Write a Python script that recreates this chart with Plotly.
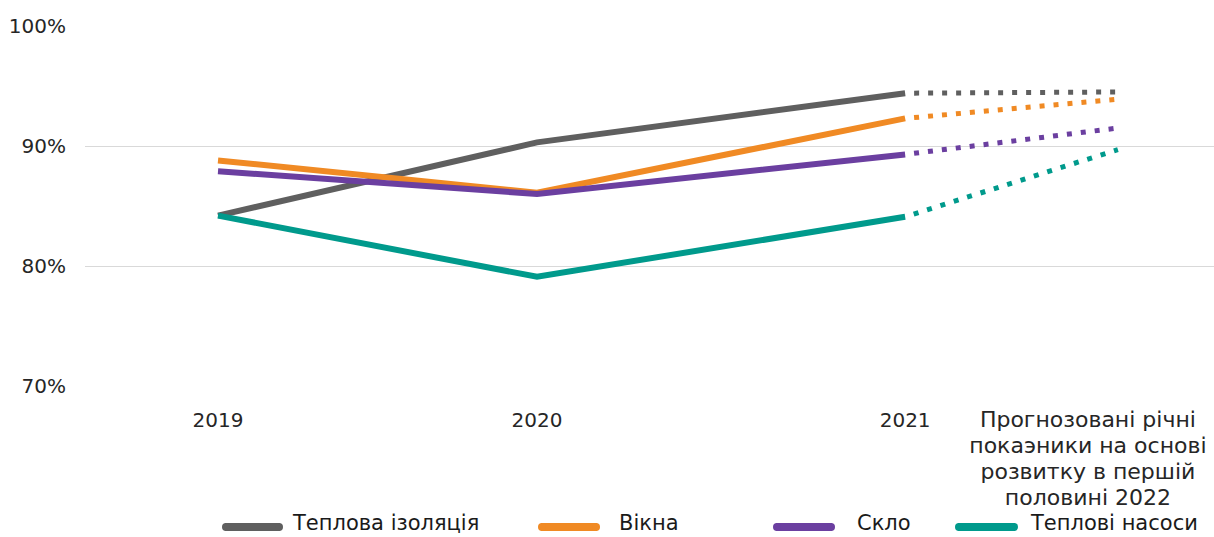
import plotly.graph_objects as go

# ---- data ----
categories = ["2019", "2020", "2021",
              "<span style='font-size:22px'>Прогнозовані річні<br>покаэники на основі<br>"
              "розвитку в першій<br>половині 2022</span>"]
series_names = ["Теплова ізоляція", "Вікна", "Скло", "Теплові насоси"]
insulation = [84.2, 90.3, 94.4, 94.5]
windows = [88.8, 86.1, 92.3, 93.9]
glass = [87.9, 86.0, 89.3, 91.5]
heat_pumps = [84.2, 79.1, 84.1, 89.7]
y_ticks = [70, 80, 90, 100]
y_tick_labels = ["70%", "80%", "90%", "100%"]

# ---- layout helpers (positions / styles) ----
x_slots = [0, 1, 2.154, 2.821]          # positions of the periods on the x axis
label_slots = [0, 1, 2.154, 2.727]      # tick-label positions
colors = ["#5f5f5f", "#f08a24", "#6b3fa0", "#009a8c"]
values = [insulation, windows, glass, heat_pumps]

W, H = 1214, 537
ML, MR, MT, MB = 85, 0, 26, 151
plot_w = W - ML - MR
plot_h = H - MT - MB

def px_x(p):
    return (p - ML) / plot_w

def px_y(p):
    return (H - MB - p) / plot_h

fig = go.Figure()
for name, vals, col in zip(series_names, values, colors):
    fig.add_trace(go.Scatter(x=x_slots[:3], y=vals[:3], mode="lines", name=name,
                             line=dict(color=col, width=6), showlegend=False,
                             hoverinfo="skip"))
for name, vals, col in zip(series_names, values, colors):
    fig.add_trace(go.Scatter(x=x_slots[2:], y=vals[2:], mode="lines", name=name,
                             line=dict(color=col, width=5, dash="0px,9px,5px,0px"),
                             showlegend=False, hoverinfo="skip"))

# manual legend
legend_items = [(222, 283, 290), (538, 600, 617), (773, 835, 855), (955, 1018, 1028)]
ly = 527
for (x0, x1, tx), name, col in zip(legend_items, series_names, colors):
    fig.add_shape(type="line", xref="paper", yref="paper",
                  x0=px_x(x0 + 3), x1=px_x(x1 - 3), y0=px_y(ly), y1=px_y(ly),
                  line=dict(color=col, width=8))
    fig.add_shape(type="circle", xref="paper", yref="paper",
                  x0=px_x(x0), x1=px_x(x0 + 8), y0=px_y(ly + 4), y1=px_y(ly - 4),
                  fillcolor=col, line=dict(width=0))
    fig.add_shape(type="circle", xref="paper", yref="paper",
                  x0=px_x(x1 - 8), x1=px_x(x1), y0=px_y(ly + 4), y1=px_y(ly - 4),
                  fillcolor=col, line=dict(width=0))
    fig.add_annotation(text=name, xref="paper", yref="paper", x=px_x(tx), y=px_y(H),
                       xanchor="left", yanchor="bottom", showarrow=False,
                       font=dict(family="DejaVu Sans", size=21, color="#1a1a1a"))

fig.update_layout(
    width=W, height=H,
    margin=dict(l=ML, r=MR, t=MT, b=MB),
    paper_bgcolor="white", plot_bgcolor="white",
    showlegend=False,
    font=dict(family="DejaVu Sans", size=20, color="#262626"),
    xaxis=dict(range=[(ML - 218) / 319, (W - MR - 218) / 319],
               tickmode="array", tickvals=label_slots, ticktext=categories,
               showgrid=False, zeroline=False, showline=False,
               ticks="", ticklabelstandoff=20, tickangle=0,
               tickfont=dict(size=20, family="DejaVu Sans", color="#262626")),
    yaxis=dict(range=[70, 100], tickmode="array", tickvals=y_ticks, ticktext=y_tick_labels,
               showgrid=True, gridcolor="#d9d9d9", gridwidth=1,
               zeroline=False, showline=False, ticks="", ticklabelstandoff=18,
               tickfont=dict(size=20, family="DejaVu Sans", color="#262626")),
)

fig.write_html("out.html")
